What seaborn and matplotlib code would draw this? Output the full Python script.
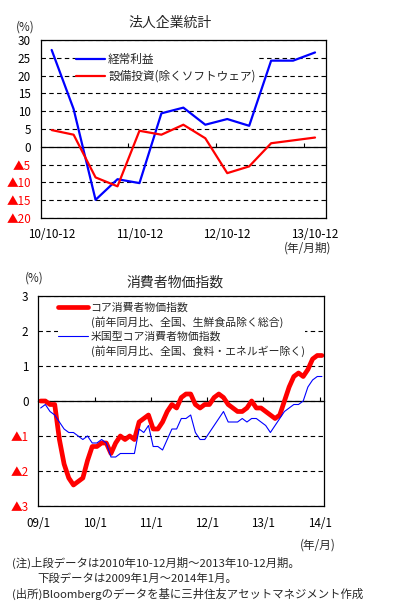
import numpy as np
import pandas as pd
import matplotlib
matplotlib.use("Agg")
import matplotlib.pyplot as plt
from matplotlib.lines import Line2D
import seaborn as sns

# --- data: 法人企業統計 (quarterly, y/y %) ---
quarters = ["10/10-12", "11/1-3", "11/4-6", "11/7-9", "11/10-12", "12/1-3", "12/4-6",
            "12/7-9", "12/10-12", "13/1-3", "13/4-6", "13/7-9", "13/10-12"]
keijo_rieki = [27.2, 10.6, -14.9, -9.1, -10.2, 9.4, 11.0, 6.2, 7.8, 5.9, 24.2, 24.2, 26.5]
setsubi_toshi = [4.7, 3.4, -8.6, -11.1, 4.5, 3.4, 6.2, 2.4, -7.4, -5.5, 1.0, 1.8, 2.6]
quarter_ticks = ["10/10-12", "11/10-12", "12/10-12", "13/10-12"]

# --- data: 消費者物価指数 (monthly 2009/1 - 2014/1, y/y %) ---
core_cpi = [
    0.0, 0.0, -0.1, -0.1, -1.1, -1.8, -2.2, -2.4, -2.3, -2.2, -1.7, -1.3,
    -1.3, -1.2, -1.2, -1.5, -1.2, -1.0, -1.1, -1.0, -1.1, -0.6, -0.5, -0.4,
    -0.8, -0.8, -0.6, -0.3, -0.1, -0.2, 0.1, 0.2, 0.2, -0.1, -0.2, -0.1,
    -0.1, 0.1, 0.2, 0.1, -0.1, -0.2, -0.3, -0.3, -0.2, 0.0, -0.2, -0.2,
    -0.3, -0.4, -0.5, -0.4, 0.0, 0.4, 0.7, 0.8, 0.7, 0.9, 1.2, 1.3, 1.3]
us_core_cpi = [
    -0.2, -0.1, -0.3, -0.4, -0.6, -0.8, -0.9, -0.9, -1.0, -1.1, -1.0, -1.2,
    -1.2, -1.1, -1.2, -1.6, -1.6, -1.5, -1.5, -1.5, -1.5, -0.8, -0.9, -0.7,
    -1.3, -1.3, -1.4, -1.1, -0.8, -0.8, -0.5, -0.5, -0.4, -0.9, -1.1, -1.1,
    -0.9, -0.7, -0.5, -0.3, -0.6, -0.6, -0.6, -0.5, -0.6, -0.5, -0.5, -0.6,
    -0.7, -0.9, -0.7, -0.5, -0.3, -0.2, -0.1, -0.1, 0.0, 0.4, 0.6, 0.7, 0.7]
year_ticks = ["09/1", "10/1", "11/1", "12/1", "13/1", "14/1"]

sns.set_theme(style="white")
plt.rcParams["font.family"] = ["Noto Sans CJK JP", "DejaVu Sans"]
plt.rcParams["axes.unicode_minus"] = False

BLUE = "#0000FF"
RED = "#FF0000"
FS = 8.4

W, H = 394, 610
fig = plt.figure(figsize=(W / 100, H / 100), dpi=100)
fig.patch.set_facecolor("white")


def box(x0, y0, x1, y1):
    # pixel box -> figure fraction rect
    return [x0 / W, 1 - y1 / H, (x1 - x0) / W, (y1 - y0) / H]


def style_axes(ax, yticks, zero_frac, boundary_ticks):
    ax.set_facecolor("white")
    for s in ax.spines.values():
        s.set_visible(True)
        s.set_color("black")
        s.set_linewidth(0.9)
    ax.tick_params(axis="both", length=0, labelsize=FS, colors="black")
    ax.tick_params(axis="y", pad=7)
    ax.set_yticks(yticks)
    ax.set_yticklabels([f"{v:g}" if v >= 0 else f"▲{-v:g}" for v in yticks])
    for lab, v in zip(ax.get_yticklabels(), yticks):
        lab.set_color(RED if v < 0 else "black")
    ax.grid(axis="y", color="black", linestyle=(0, (4, 3)), linewidth=0.8)
    ax.grid(axis="x", visible=False)
    ax.set_axisbelow(True)
    ax.set_xlabel("")
    ax.set_ylabel("")
    # zero line with boundary tick marks
    sec = ax.secondary_xaxis(zero_frac)
    for s in sec.spines.values():
        s.set_linewidth(0.9)
        s.set_color("black")
    sec.set_xticks(boundary_ticks)
    sec.set_xticklabels([])
    sec.tick_params(direction="in", length=3, width=0.8, color="black",
                    labelbottom=False, labeltop=False)


# ---------------- top chart ----------------
ax1 = fig.add_axes(box(40.7, 40, 326, 218))
df_q = pd.DataFrame({"q": np.arange(len(quarters)), "keijo": keijo_rieki, "setsubi": setsubi_toshi})
sns.lineplot(data=df_q, x="q", y="keijo", ax=ax1, color=BLUE, linewidth=1.6, label="経常利益")
sns.lineplot(data=df_q, x="q", y="setsubi", ax=ax1, color=RED, linewidth=1.6, label="設備投資(除くソフトウェア)")
ax1.set_xlim(-0.5, len(quarters) - 0.5)
ax1.set_ylim(-20, 30)
ax1.set_xticks([quarters.index(t) for t in quarter_ticks])
ax1.set_xticklabels(quarter_ticks)
style_axes(ax1, list(range(-20, 31, 5)), 0.4, [3.5, 7.5, 11.5])
ax1.tick_params(axis="x", pad=7)
leg1 = ax1.legend(loc="upper left", bbox_to_anchor=((76 - 40.7) / 285.3, 1 - (53 - 40) / 178),
                  fontsize=FS, frameon=True, framealpha=1, edgecolor="white", facecolor="white",
                  fancybox=False, borderpad=0.0, borderaxespad=0, handlelength=2.5,
                  handletextpad=0.25, labelspacing=0.32)
leg1.get_frame().set_linewidth(0)

fig.text(170 / W, 1 - 23 / H, "法人企業統計", ha="center", va="center", fontsize=10)
fig.text(25 / W, 1 - 27 / H, "(%)", ha="center", va="center", fontsize=FS)
fig.text(308 / W, 1 - 248 / H, "(年/月期)", ha="center", va="center", fontsize=FS)

# ---------------- bottom chart ----------------
ax2 = fig.add_axes(box(38.3, 296, 324.3, 506))
df_m = pd.DataFrame({"m": np.arange(len(core_cpi)) + 0.5, "core": core_cpi, "us": us_core_cpi})
sns.lineplot(data=df_m, x="m", y="core", ax=ax2, color=RED, linewidth=3.4, label="core")
sns.lineplot(data=df_m, x="m", y="us", ax=ax2, color=BLUE, linewidth=0.8, label="us")
ax2.set_xlim(0, len(core_cpi))
ax2.set_ylim(-3, 3)
ax2.set_xticks(np.arange(len(year_ticks)) * 12)
ax2.set_xticklabels(year_ticks)
style_axes(ax2, [-3, -2, -1, 0, 1, 2, 3], 0.4999, [12, 24, 36, 48, 60])
ax2.tick_params(axis="x", pad=8)

h, _ = ax2.get_legend_handles_labels()
blank = Line2D([], [], linestyle="none")
leg2 = ax2.legend(handles=[h[0], blank, h[1], blank],
                  labels=["コア消費者物価指数", "(前年同月比、全国、生鮮食品除く総合)",
                          "米国型コア消費者物価指数", "(前年同月比、全国、食料・エネルギー除く)"],
                  loc="upper left", bbox_to_anchor=((58 - 38.3) / 286, 1 - (302 - 296) / 210),
                  fontsize=7.8, frameon=True, framealpha=1, edgecolor="white", facecolor="white",
                  fancybox=False, borderpad=0.0, borderaxespad=0, handlelength=2.8,
                  handletextpad=0.2, labelspacing=0.33)
leg2.get_frame().set_linewidth(0)

fig.text(175 / W, 1 - 283 / H, "消費者物価指数", ha="center", va="center", fontsize=10)
fig.text(34 / W, 1 - 278 / H, "(%)", ha="center", va="center", fontsize=FS)
fig.text(318 / W, 1 - 545 / H, "(年/月)", ha="center", va="center", fontsize=FS)

# ---------------- notes ----------------
NFS = 8.2
fig.text(12 / W, 1 - 563 / H, "(注)上段データは2010年10-12月期～2013年10-12月期。", ha="left", va="center", fontsize=NFS)
fig.text(37 / W, 1 - 579 / H, "下段データは2009年1月～2014年1月。", ha="left", va="center", fontsize=NFS)
fig.text(12 / W, 1 - 594 / H, "(出所)Bloombergのデータを基に三井住友アセットマネジメント作成", ha="left", va="center", fontsize=NFS)

fig.savefig("out.png", dpi=100, facecolor="white")
